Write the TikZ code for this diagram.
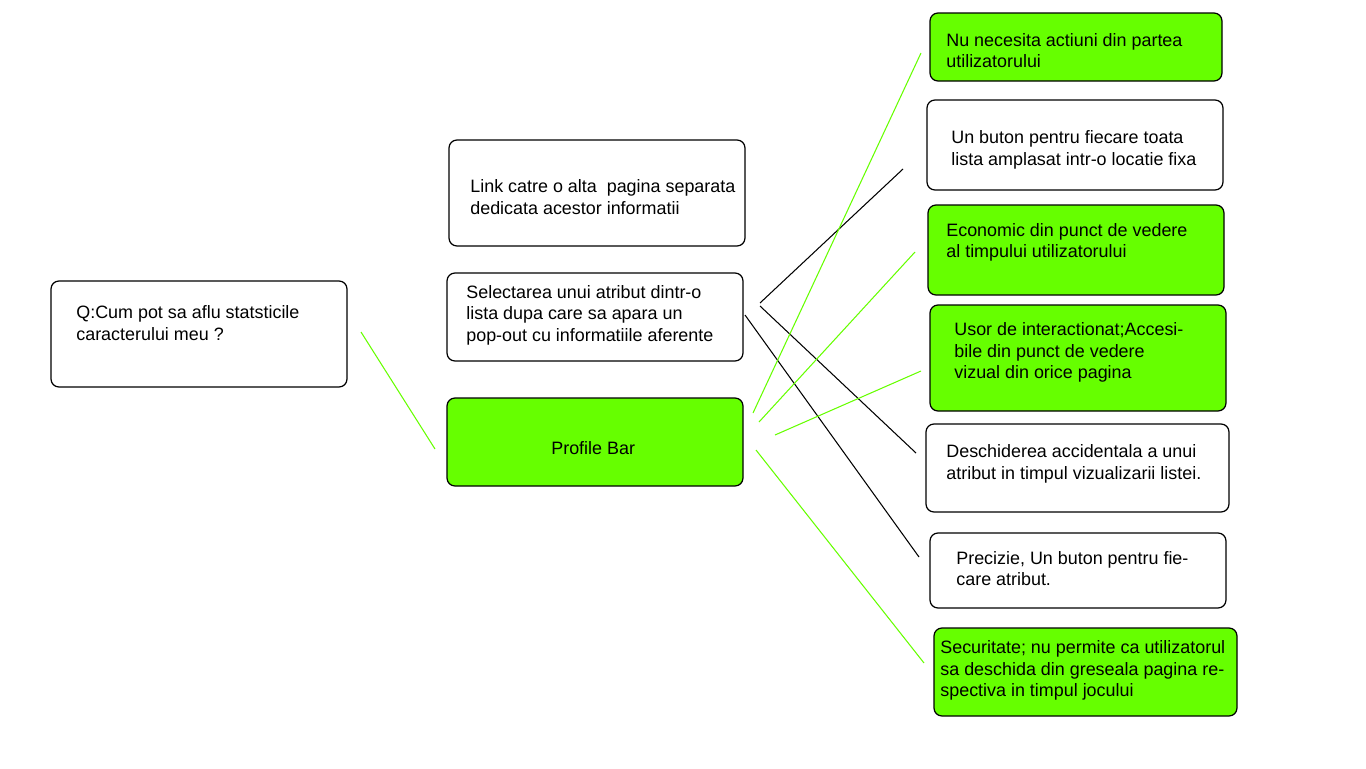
\documentclass[tikz,border=0pt]{standalone}
\usepackage{fontspec}
\setmainfont{Liberation Sans}
\usepackage{tikz}
\usetikzlibrary{positioning,calc}

\definecolor{barGreen}{HTML}{66FF00}

\tikzset{
  card/.style={draw=black, rounded corners=0.16cm, line width=0.7pt, inner sep=0pt},
  note/.style={anchor=west, align=left, inner sep=0pt, font=\fontsize{10.2}{12.3}\selectfont},
  tie/.style={line width=0.6pt}
}

\begin{document}
\begin{tikzpicture}[x=0.02cm,y=-0.02cm]
  \useasboundingbox (0,0) rectangle (1366,768);
  % boxes: name/left/top/right/bottom/fill/text x/text y/text
  \foreach \n/\xa/\ya/\xb/\yb/\c/\tx/\ty/\txt in {
      q/51/281/347/387/white/76/323/{Q:Cum pot sa aflu statsticile\\caracterului meu ?},
      lnk/449/140/745/246/white/470/197/{Link catre o alta\ \ pagina separata\\dedicata acestor informatii},
      sel/447/273/743/361/white/466/315/{Selectarea unui atribut dintr-o\\lista dupa care sa apara un\\pop-out cu informatiile aferente},
      pb/447/398/743/486/barGreen/551/448/{Profile Bar},
      nu/930/13/1222/81/barGreen/946/50.5/{Nu necesita actiuni din partea\\utilizatorului},
      btn/927/100/1223/190/white/951/150/{Un buton pentru fiecare toata\\lista amplasat intr-o locatie fixa},
      eco/928/205/1224/295/barGreen/946/242.5/{Economic din punct de vedere\\al timpului utilizatorului},
      usor/930/305/1226/411/barGreen/954/352.5/{Usor de interactionat;Accesi-\\bile din punct de vedere\\vizual din orice pagina},
      desc/926/424/1229/512/white/946/464/{Deschiderea accidentala a unui\\atribut in timpul vizualizarii listei.},
      prec/930/533/1226/608/white/956/568.5/{Precizie, Un buton pentru fie-\\care atribut.},
      sec/934/628/1237/716/barGreen/940/670.5/{Securitate; nu permite ca utilizatorul\\sa deschida din greseala pagina re-\\spectiva in timpul jocului}} {
    \pgfmathsetmacro\w{(\xb-\xa)*0.02}
    \pgfmathsetmacro\h{(\yb-\ya)*0.02}
    \node[card, fill=\c, minimum width=\w cm, minimum height=\h cm] (\n) at ({(\xa+\xb)/2},{(\ya+\yb)/2}) {};
    \node[note] (\n t) at (\tx,\ty) {\txt};
  }

  % loose ends of the ties
  \coordinate (q1) at (361,332);
  \coordinate (p1) at (435,449);
  \coordinate (s1) at (760,303);
  \coordinate (s2) at (903,169);
  \coordinate (s3) at (760,306);
  \coordinate (s4) at (916,453);
  \coordinate (s5) at (745,315);
  \coordinate (s6) at (919,557);
  \coordinate (g1) at (753,413);
  \coordinate (g2) at (921,53);
  \coordinate (g3) at (759,422);
  \coordinate (g4) at (915,252);
  \coordinate (g5) at (775,435);
  \coordinate (g6) at (921,371);
  \coordinate (g7) at (756,450);
  \coordinate (g8) at (924,663);

  \foreach \a/\b/\c in {q1/p1/barGreen, s1/s2/black, s3/s4/black, s5/s6/black,
      g1/g2/barGreen, g3/g4/barGreen, g5/g6/barGreen, g7/g8/barGreen} {
    \draw[tie, \c] (\a) -- (\b);
  }
\end{tikzpicture}
\end{document}
